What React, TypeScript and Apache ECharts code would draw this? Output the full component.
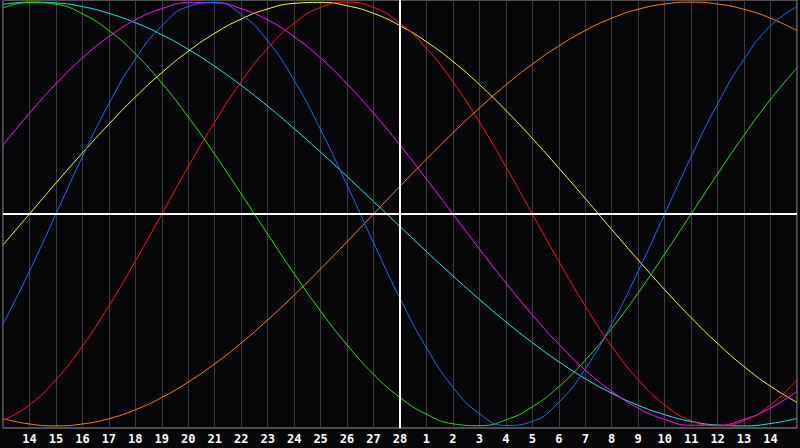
import React, { useEffect, useRef } from "react";
import * as echarts from "echarts";

// Day labels (first and last slots are the plot's edges, unlabelled)
const dayLabels = ["", "14", "15", "16", "17", "18", "19", "20", "21", "22", "23", "24", "25", "26", "27", "28",
  "1", "2", "3", "4", "5", "6", "7", "8", "9", "10", "11", "12", "13", "14", ""];
const todayIndex = 15;

// Values read at each day line, -1..1
const physical23 = [-0.52, -0.27, 0, 0.27, 0.52, 0.731, 0.888, 0.979, 0.998, 0.942, 0.817, 0.631, 0.398, 0.136, -0.136, -0.398, -0.631, -0.817, -0.942, -0.998, -0.979, -0.888, -0.731, -0.52, -0.27, 0, 0.27, 0.52, 0.731, 0.888, 0.979];
const emotional28 = [-0.975, -0.901, -0.782, -0.624, -0.434, -0.223, 0, 0.223, 0.434, 0.624, 0.782, 0.901, 0.975, 1, 0.975, 0.901, 0.782, 0.624, 0.434, 0.223, 0, -0.223, -0.434, -0.624, -0.782, -0.901, -0.975, -1, -0.975, -0.901, -0.782];
const intellectual33 = [0.972, 0.999, 0.99, 0.945, 0.866, 0.756, 0.618, 0.458, 0.282, 0.095, -0.095, -0.282, -0.458, -0.618, -0.756, -0.866, -0.945, -0.99, -0.999, -0.972, -0.91, -0.815, -0.69, -0.541, -0.372, -0.189, 0, 0.189, 0.372, 0.541, 0.69];
const intuitive38 = [0.325, 0.476, 0.614, 0.736, 0.837, 0.916, 0.969, 0.997, 0.997, 0.969, 0.916, 0.837, 0.736, 0.614, 0.476, 0.325, 0.165, 0, -0.165, -0.325, -0.476, -0.614, -0.736, -0.837, -0.916, -0.969, -0.997, -0.997, -0.969, -0.916, -0.837];
const aesthetic43 = [-0.146, 0, 0.146, 0.288, 0.424, 0.552, 0.667, 0.768, 0.853, 0.92, 0.968, 0.994, 0.999, 0.983, 0.947, 0.889, 0.813, 0.72, 0.611, 0.489, 0.357, 0.217, 0.073, -0.073, -0.217, -0.357, -0.489, -0.611, -0.72, -0.813, -0.889];
const awareness48 = [-0.966, -0.991, -1, -0.991, -0.966, -0.924, -0.866, -0.793, -0.707, -0.609, -0.5, -0.383, -0.259, -0.131, 0, 0.131, 0.259, 0.383, 0.5, 0.609, 0.707, 0.793, 0.866, 0.924, 0.966, 0.991, 1, 0.991, 0.966, 0.924, 0.866];
const spiritual53 = [0.989, 1, 0.996, 0.979, 0.947, 0.903, 0.846, 0.777, 0.697, 0.607, 0.509, 0.403, 0.292, 0.177, 0.059, -0.059, -0.177, -0.292, -0.403, -0.509, -0.607, -0.697, -0.777, -0.846, -0.903, -0.947, -0.979, -0.996, -1, -0.989, -0.965];

const seriesDefs = [
  { name: "Spiritual", data: spiritual53, color: "#10eeee" },
  { name: "Awareness", data: awareness48, color: "#ff8010" },
  { name: "Aesthetic", data: aesthetic43, color: "#ffff10" },
  { name: "Intuitive", data: intuitive38, color: "#ff10ff" },
  { name: "Intellectual", data: intellectual33, color: "#20e010" },
  { name: "Emotional", data: emotional28, color: "#ff1010" },
  { name: "Physical", data: physical23, color: "#1a6cff" },
];

export default function App() {
  const ref = useRef<HTMLDivElement>(null);
  useEffect(() => {
    if (!ref.current) return;
    const chart = echarts.init(ref.current, undefined, { renderer: "svg" });
    const series: any[] = seriesDefs.map((s) => ({
      type: "line",
      name: s.name,
      data: s.data,
      smooth: true,
      showSymbol: false,
      symbol: "none",
      lineStyle: { color: s.color, width: 1 },
      itemStyle: { color: s.color },
      silent: true,
    }));
    series.push({
      type: "line",
      data: [],
      z: 10,
      silent: true,
      markLine: {
        silent: true,
        symbol: "none",
        label: { show: false },
        lineStyle: { color: "#ffffff", width: 2, type: "solid" },
        data: [{ yAxis: 0 }, { xAxis: todayIndex }],
      },
    });
    chart.setOption({
      animation: false,
      backgroundColor: "#060609",
      grid: {
        left: 0,
        right: 0,
        top: 0,
        bottom: 20,
        show: true,
        borderColor: "#999999",
        borderWidth: 1,
        backgroundColor: "#060609",
      },
      xAxis: {
        type: "category",
        data: dayLabels,
        boundaryGap: false,
        axisLine: { show: false },
        axisTick: { show: false },
        splitLine: { show: true, interval: 0, lineStyle: { color: "#3c3c3c", width: 1 } },
        axisLabel: {
          interval: 0,
          color: "#ffffff",
          fontFamily: "DejaVu Sans Mono",
          fontWeight: "bold",
          fontSize: 12,
          margin: 5,
        },
      },
      yAxis: {
        type: "value",
        min: -1.01,
        max: 1.01,
        axisLine: { show: false },
        axisTick: { show: false },
        axisLabel: { show: false },
        splitLine: { show: false },
      },
      series,
    });
    return () => chart.dispose();
  }, []);
  return <div ref={ref} style={{ position: "fixed", left: 0, top: 0, width: 800, height: 448 }} />;
}
